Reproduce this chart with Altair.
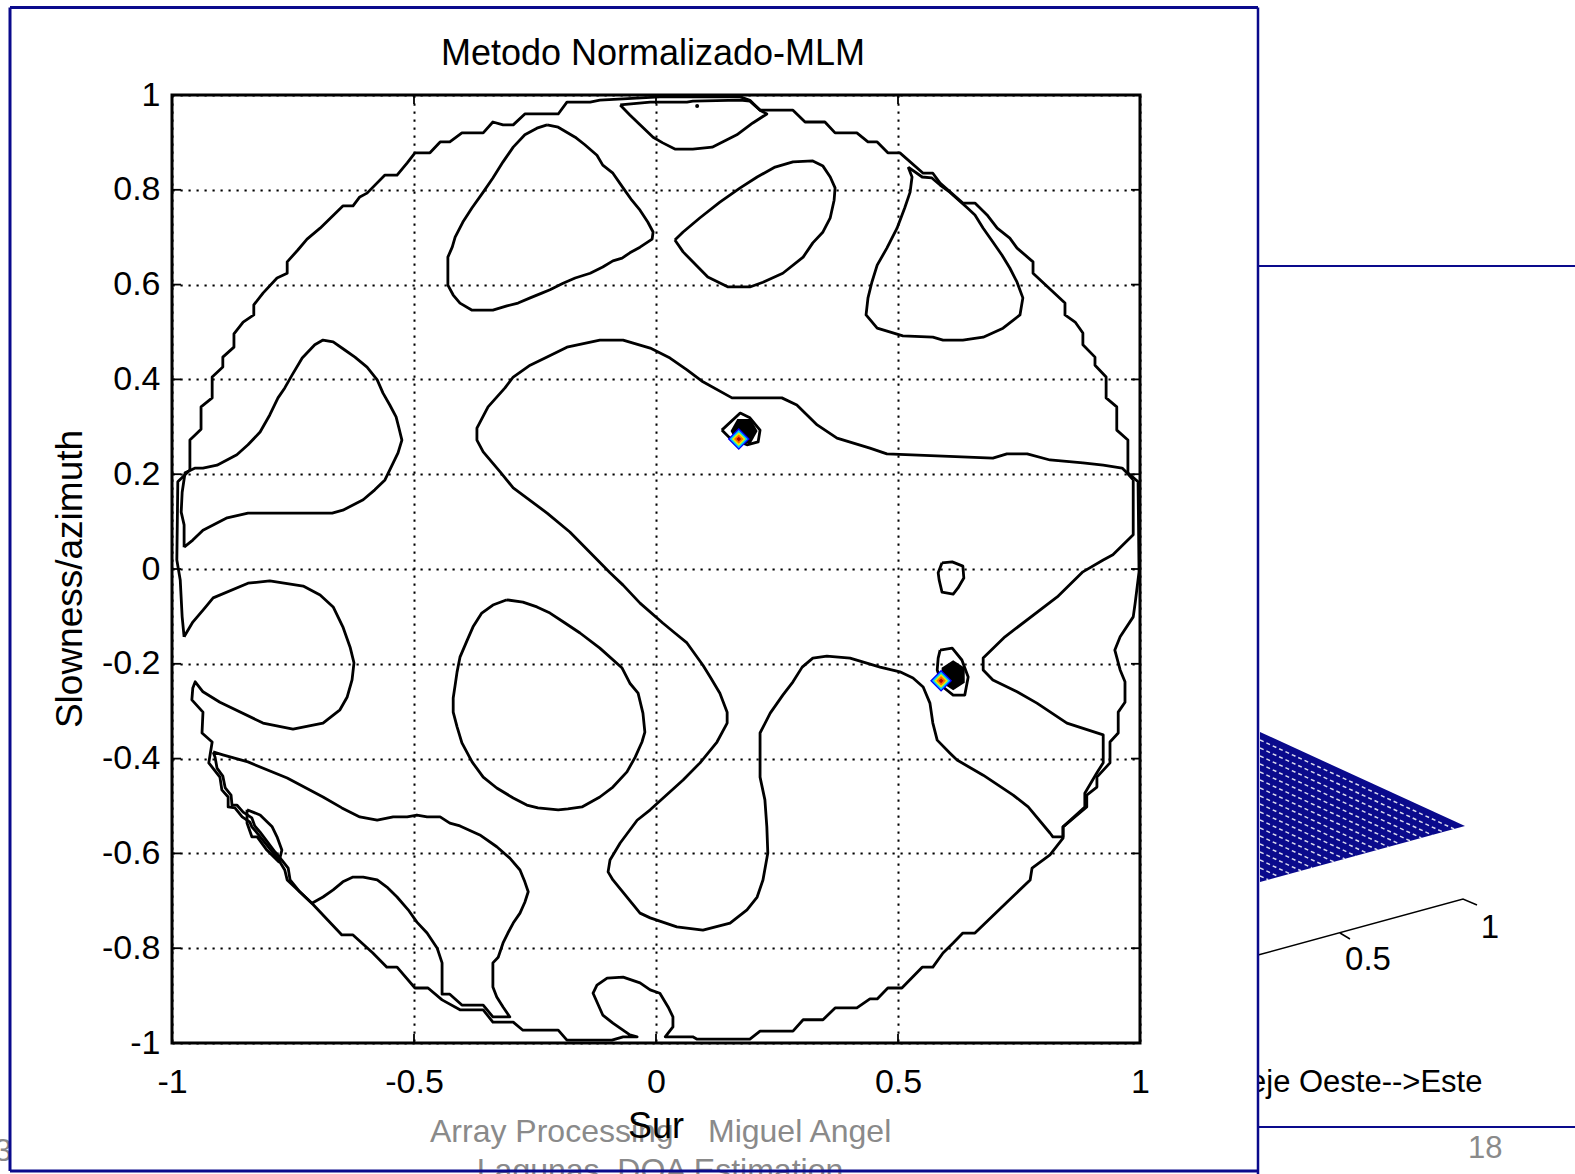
import altair as alt
import pandas as pd

# ---------------- contour polylines, (x, y) in data units ----------------
OUTER = [(-0.975,-0.143),(-0.979,-0.101),(-0.983,-0.023),(-0.990,0.019),(-0.988,0.184),(-0.963,0.209),
 (-0.963,0.272),(-0.940,0.295),(-0.940,0.342),(-0.917,0.361),(-0.917,0.405),(-0.895,0.426),(-0.895,0.447),
 (-0.872,0.468),(-0.872,0.496),(-0.853,0.521),(-0.831,0.536),(-0.831,0.557),(-0.812,0.582),(-0.783,0.614),
 (-0.762,0.624),(-0.762,0.648),(-0.740,0.673),(-0.721,0.696),(-0.694,0.719),(-0.647,0.766),(-0.626,0.766),
 (-0.612,0.785),(-0.597,0.793),(-0.560,0.831),(-0.535,0.831),(-0.514,0.857),(-0.498,0.878),(-0.467,0.878),
 (-0.446,0.901),(-0.426,0.901),(-0.401,0.920),(-0.357,0.920),(-0.337,0.943),(-0.316,0.937),(-0.295,0.937),
 (-0.271,0.960),(-0.202,0.960),(-0.184,0.985),(-0.136,0.985),(-0.116,0.989),(0.008,0.996),(0.174,0.996),
 (0.194,0.989),(0.215,0.968),(0.283,0.968),(0.308,0.943),(0.349,0.943),(0.370,0.920),(0.415,0.920),
 (0.438,0.901),(0.457,0.901),(0.479,0.878),(0.504,0.878),(0.552,0.835),(0.572,0.835),(0.587,0.814),
 (0.634,0.772),(0.659,0.772),(0.684,0.747),(0.705,0.719),(0.731,0.698),(0.746,0.677),(0.779,0.648),
 (0.779,0.624),(0.845,0.561),(0.845,0.536),(0.866,0.521),(0.882,0.498),(0.882,0.473),(0.907,0.447),
 (0.907,0.430),(0.930,0.405),(0.930,0.361),(0.952,0.342),(0.952,0.293),(0.975,0.272),(0.975,0.203),
 (0.996,0.184),(0.998,-0.006),(0.990,-0.072),(0.986,-0.101),(0.959,-0.143),(0.948,-0.171),(0.959,-0.213),
 (0.969,-0.238),(0.969,-0.281),(0.955,-0.302),(0.955,-0.346),(0.938,-0.365),(0.938,-0.409),(0.911,-0.439),
 (0.911,-0.460),(0.890,-0.477),(0.890,-0.502),(0.841,-0.544),(0.841,-0.568),(0.814,-0.603),(0.777,-0.631),
 (0.773,-0.656),(0.725,-0.703),(0.659,-0.768),(0.634,-0.768),(0.614,-0.789),(0.593,-0.810),(0.572,-0.840),
 (0.550,-0.840),(0.508,-0.884),(0.479,-0.884),(0.457,-0.907),(0.442,-0.907),(0.415,-0.926),(0.370,-0.926),
 (0.345,-0.951),(0.304,-0.951),(0.283,-0.975),(0.215,-0.975),(0.194,-0.992),(0.085,-0.992),(0.076,-0.987),
 (0.019,-0.987),(0.035,-0.966),(0.035,-0.945),(0.025,-0.924),(0.008,-0.895),(-0.012,-0.888),(-0.033,-0.873),
 (-0.068,-0.861),(-0.101,-0.863),(-0.122,-0.878),(-0.130,-0.895),(-0.110,-0.941),(-0.089,-0.958),
 (-0.054,-0.983),(-0.039,-0.987),(-0.068,-0.987),(-0.091,-0.994),(-0.184,-0.994),(-0.202,-0.973),
 (-0.275,-0.973),(-0.295,-0.956),(-0.337,-0.956),(-0.357,-0.930),(-0.405,-0.930),(-0.442,-0.909),
 (-0.471,-0.884),(-0.498,-0.884),(-0.535,-0.840),(-0.556,-0.840),(-0.585,-0.810),(-0.626,-0.772),
 (-0.649,-0.772),(-0.711,-0.705),(-0.762,-0.656),(-0.767,-0.635),(-0.777,-0.618),(-0.791,-0.599),
 (-0.824,-0.557),(-0.835,-0.544),(-0.839,-0.534),(-0.855,-0.523),(-0.870,-0.504),(-0.884,-0.502),
 (-0.884,-0.481),(-0.897,-0.466),(-0.901,-0.439),(-0.924,-0.409),(-0.917,-0.365),(-0.938,-0.346),
 (-0.936,-0.302),(-0.959,-0.276),(-0.957,-0.251),(-0.952,-0.238),(-0.936,-0.259),(-0.901,-0.281),
 (-0.812,-0.325),(-0.750,-0.338),(-0.688,-0.325),(-0.653,-0.297),(-0.638,-0.270),(-0.628,-0.234),
 (-0.624,-0.198),(-0.632,-0.165),(-0.647,-0.122),(-0.667,-0.080),(-0.694,-0.055),(-0.729,-0.036),
 (-0.798,-0.025),(-0.843,-0.030),(-0.915,-0.061),(-0.932,-0.082),(-0.957,-0.112),(-0.975,-0.143)]

TOP_LOBE = [(-0.074,0.979),(-0.054,0.958),(-0.033,0.937),(-0.006,0.911),(0.014,0.899),(0.039,0.886),
 (0.076,0.886),(0.116,0.890),(0.167,0.916),(0.200,0.941),(0.229,0.960),(0.215,0.968),(0.194,0.987),
 (0.174,0.989),(0.076,0.987),(0.064,0.985),(-0.012,0.985),(-0.074,0.979)]

UPPER_LEFT_BLOB = [(-0.225,0.937),(-0.202,0.932),(-0.167,0.911),(-0.147,0.895),(-0.122,0.873),(-0.110,0.852),
 (-0.089,0.835),(-0.068,0.804),(-0.050,0.778),(-0.033,0.757),(-0.017,0.732),(-0.006,0.711),(-0.008,0.696),
 (-0.033,0.679),(-0.054,0.667),(-0.070,0.656),(-0.089,0.650),(-0.110,0.637),(-0.136,0.624),(-0.167,0.614),
 (-0.192,0.603),(-0.219,0.589),(-0.236,0.582),(-0.260,0.572),(-0.285,0.561),(-0.308,0.555),(-0.337,0.546),
 (-0.380,0.546),(-0.405,0.561),(-0.419,0.578),(-0.430,0.599),(-0.430,0.658),(-0.421,0.679),(-0.415,0.700),
 (-0.399,0.732),(-0.380,0.762),(-0.357,0.795),(-0.337,0.825),(-0.316,0.859),(-0.295,0.890),(-0.271,0.916),
 (-0.246,0.930),(-0.225,0.937)]

UPPER_MID_BLOB = [(0.039,0.694),(0.056,0.711),(0.091,0.741),(0.132,0.774),(0.174,0.804),(0.209,0.827),
 (0.246,0.848),(0.283,0.859),(0.324,0.861),(0.345,0.850),(0.360,0.827),(0.370,0.804),(0.368,0.778),
 (0.360,0.741),(0.345,0.711),(0.324,0.688),(0.304,0.658),(0.262,0.624),(0.221,0.605),(0.194,0.595),
 (0.149,0.595),(0.107,0.616),(0.076,0.648),(0.056,0.669),(0.039,0.694)]

UPPER_RIGHT_LOBE = [(0.521,0.848),(0.529,0.827),(0.525,0.795),(0.514,0.762),(0.498,0.719),(0.477,0.677),
 (0.457,0.641),(0.446,0.605),(0.438,0.572),(0.434,0.536),(0.457,0.508),(0.510,0.492),(0.572,0.489),
 (0.593,0.483),(0.634,0.483),(0.676,0.489),(0.717,0.508),(0.752,0.536),(0.758,0.572),(0.746,0.605),
 (0.731,0.635),(0.715,0.662),(0.696,0.690),(0.676,0.719),(0.659,0.747),(0.643,0.762),(0.607,0.795),
 (0.587,0.810),(0.570,0.825),(0.550,0.827),(0.521,0.848)]

CENTRAL = [(0.986,0.188),(0.973,0.203),(0.963,0.213),(0.924,0.219),(0.882,0.224),(0.814,0.230),(0.767,0.243),
 (0.725,0.243),(0.696,0.234),(0.477,0.243),(0.442,0.255),(0.374,0.276),(0.333,0.304),(0.291,0.346),
 (0.260,0.361),(0.157,0.361),(0.097,0.395),(0.064,0.420),(0.029,0.445),(-0.012,0.466),(-0.068,0.483),
 (-0.116,0.483),(-0.184,0.468),(-0.225,0.447),(-0.260,0.430),(-0.295,0.405),(-0.312,0.382),(-0.347,0.342),
 (-0.370,0.297),(-0.370,0.272),(-0.357,0.247),(-0.322,0.205),(-0.295,0.171),(-0.225,0.118),(-0.178,0.078),
 (-0.095,-0.008),(-0.068,-0.034),(-0.033,-0.072),(0.014,-0.114),(0.039,-0.135),(0.064,-0.156),(0.097,-0.203),
 (0.112,-0.228),(0.132,-0.262),(0.147,-0.302),(0.147,-0.325),(0.126,-0.365),(0.091,-0.409),(0.056,-0.445),
 (-0.012,-0.508),(-0.039,-0.530),(-0.074,-0.578),(-0.095,-0.614),(-0.099,-0.639),(-0.089,-0.656),
 (-0.033,-0.726),(-0.012,-0.736),(0.043,-0.755),(0.097,-0.762),(0.153,-0.747),(0.188,-0.719),(0.209,-0.692),
 (0.221,-0.656),(0.231,-0.599),(0.229,-0.544),(0.225,-0.487),(0.215,-0.439),(0.215,-0.346),(0.236,-0.304),
 (0.262,-0.266),(0.283,-0.238),(0.302,-0.207),(0.324,-0.188),(0.353,-0.184),(0.401,-0.188),(0.463,-0.207),
 (0.504,-0.217),(0.531,-0.230),(0.552,-0.249),(0.566,-0.283),(0.572,-0.325),(0.581,-0.361),(0.607,-0.388),
 (0.622,-0.403),(0.676,-0.435),(0.738,-0.477),(0.769,-0.502),(0.814,-0.557),(0.820,-0.565),(0.841,-0.565),
 (0.841,-0.544),(0.886,-0.502),(0.886,-0.473),(0.911,-0.430),(0.924,-0.409),(0.924,-0.350),(0.849,-0.325),
 (0.787,-0.283),(0.746,-0.259),(0.696,-0.234),(0.676,-0.213),(0.676,-0.188),(0.721,-0.143),(0.829,-0.059),
 (0.882,-0.006),(0.924,0.019),(0.944,0.030),(0.986,0.072),(0.986,0.188)]

LEFT_LOBE = [(-0.975,0.046),(-0.957,0.061),(-0.936,0.082),(-0.911,0.095),(-0.886,0.108),(-0.843,0.118),
 (-0.669,0.118),(-0.647,0.124),(-0.605,0.146),(-0.581,0.167),(-0.560,0.188),(-0.543,0.224),(-0.533,0.245),
 (-0.525,0.272),(-0.531,0.297),(-0.537,0.321),(-0.550,0.346),(-0.564,0.371),(-0.576,0.399),(-0.597,0.426),
 (-0.622,0.447),(-0.643,0.462),(-0.667,0.479),(-0.688,0.483),(-0.705,0.473),(-0.731,0.445),(-0.752,0.409),
 (-0.767,0.382),(-0.781,0.361),(-0.798,0.325),(-0.818,0.289),(-0.843,0.262),(-0.866,0.241),(-0.907,0.219),
 (-0.936,0.213),(-0.952,0.213),(-0.973,0.203),(-0.979,0.162),(-0.981,0.120),(-0.975,0.093),(-0.975,0.046)]

LOWER_MID_BLOB = [(-0.308,-0.065),(-0.275,-0.070),(-0.246,-0.080),(-0.219,-0.093),(-0.188,-0.114),
 (-0.157,-0.135),(-0.116,-0.167),(-0.070,-0.209),(-0.054,-0.241),(-0.037,-0.262),(-0.027,-0.304),
 (-0.023,-0.344),(-0.029,-0.365),(-0.043,-0.397),(-0.060,-0.428),(-0.089,-0.460),(-0.116,-0.481),
 (-0.153,-0.502),(-0.182,-0.506),(-0.202,-0.508),(-0.244,-0.504),(-0.267,-0.498),(-0.295,-0.483),
 (-0.329,-0.462),(-0.357,-0.439),(-0.380,-0.407),(-0.401,-0.367),(-0.411,-0.333),(-0.419,-0.302),
 (-0.419,-0.272),(-0.415,-0.245),(-0.411,-0.217),(-0.405,-0.186),(-0.390,-0.150),(-0.378,-0.122),
 (-0.360,-0.093),(-0.337,-0.076),(-0.308,-0.065)]

LOWER_LEFT_LOOP = [(-0.915,-0.386),(-0.895,-0.392),(-0.843,-0.407),(-0.762,-0.441),(-0.688,-0.481),
 (-0.649,-0.504),(-0.612,-0.523),(-0.576,-0.530),(-0.543,-0.523),(-0.514,-0.523),(-0.494,-0.519),
 (-0.473,-0.523),(-0.446,-0.523),(-0.426,-0.536),(-0.405,-0.542),(-0.364,-0.561),(-0.329,-0.586),
 (-0.302,-0.610),(-0.281,-0.635),(-0.271,-0.660),(-0.264,-0.681),(-0.271,-0.703),(-0.281,-0.726),
 (-0.295,-0.747),(-0.306,-0.768),(-0.316,-0.789),(-0.326,-0.819),(-0.337,-0.831),(-0.337,-0.882),
 (-0.329,-0.903),(-0.316,-0.924),(-0.302,-0.945),(-0.337,-0.945),(-0.357,-0.920),(-0.401,-0.920),
 (-0.426,-0.897),(-0.442,-0.897),(-0.442,-0.831),(-0.452,-0.800),(-0.473,-0.768),(-0.494,-0.745),
 (-0.512,-0.719),(-0.535,-0.692),(-0.556,-0.671),(-0.576,-0.656),(-0.605,-0.650),(-0.626,-0.650),
 (-0.647,-0.660),(-0.667,-0.677),(-0.688,-0.692),(-0.711,-0.705),(-0.736,-0.681),(-0.756,-0.656),
 (-0.760,-0.631),(-0.773,-0.614),(-0.787,-0.597),(-0.818,-0.555),(-0.829,-0.542),(-0.835,-0.525),
 (-0.853,-0.513),(-0.866,-0.498),(-0.876,-0.498),(-0.878,-0.477),(-0.890,-0.462),(-0.895,-0.437),
 (-0.907,-0.420),(-0.911,-0.397),(-0.915,-0.386)]

SMALL_EDGE_LOOP = [(-0.845,-0.508),(-0.818,-0.519),(-0.793,-0.544),(-0.783,-0.565),(-0.773,-0.593),
 (-0.779,-0.618),(-0.804,-0.593),(-0.824,-0.565),(-0.835,-0.565),(-0.845,-0.536),(-0.845,-0.508)]

SMALL_BLOB = [(0.591,0.013),(0.612,0.015),(0.634,0.006),(0.636,-0.019),(0.624,-0.040),(0.614,-0.053),
 (0.591,-0.049),(0.585,-0.023),(0.583,-0.008),(0.591,0.013)]

PEAK1_RING = [(0.136,0.293),(0.174,0.329),(0.194,0.319),(0.215,0.293),(0.211,0.268),(0.188,0.262),
 (0.153,0.276),(0.136,0.293)]

PEAK2_RING = [(0.587,-0.171),(0.612,-0.167),(0.632,-0.192),(0.645,-0.228),(0.638,-0.266),(0.614,-0.266),
 (0.593,-0.249),(0.581,-0.213),(0.583,-0.188),(0.587,-0.171)]

CONTOURS = {
    "outer": OUTER, "top_lobe": TOP_LOBE, "ul_blob": UPPER_LEFT_BLOB, "um_blob": UPPER_MID_BLOB,
    "ur_lobe": UPPER_RIGHT_LOBE, "central": CENTRAL, "left_lobe": LEFT_LOBE, "lm_blob": LOWER_MID_BLOB,
    "ll_loop": LOWER_LEFT_LOOP, "edge_loop": SMALL_EDGE_LOOP, "small_blob": SMALL_BLOB,
    "peak1_ring": PEAK1_RING, "peak2_ring": PEAK2_RING,
}

# peaks (source directions)
CORE_X = [0.182, 0.614]
CORE_Y = [0.291, -0.224]
CORE_SHAPES = ["M-1,0L-0.5,-0.9L0.5,-0.9L1,0L0.5,0.9L-0.5,0.9Z",
               "M0,-1L0.77,-0.5L0.77,0.5L0,1L-0.77,0.5L-0.77,-0.5Z"]
CORE_SIZES = [729, 900]
PEAK_X = [0.171, 0.589]
PEAK_Y = [0.274, -0.236]
RING_COLORS = ["#0000ff", "#00c8ff", "#e6f000", "#ff6a00", "#b00000"]
RING_SIZES = [484, 330, 190, 90, 22]

TOP_DOT = [(0.085, 0.977)]

X_TICKS = [-1, -0.5, 0, 0.5, 1]
Y_TICKS = [-1, -0.8, -0.6, -0.4, -0.2, 0, 0.2, 0.4, 0.6, 0.8, 1]

TITLE = "Metodo Normalizado-MLM"
X_TITLE = "Sur"
Y_TITLE = "Slowness/azimuth"

# ---------------- layout (page pixels) ----------------
PAGE_W, PAGE_H = 1575, 1174
PLOT_L, PLOT_T, PLOT_W, PLOT_H = 172, 95, 968, 948
NAVY = "#0a0a8c"
GREY = "#8a8a8a"
FONT = "Liberation Sans"


def px(x):
    return x - PLOT_L


def py(y):
    return y - PLOT_T


rows = []
for cid, pts in CONTOURS.items():
    for i, (x, y) in enumerate(pts):
        rows.append({"cid": cid, "i": i, "x": x, "y": y})
contour_df = pd.DataFrame(rows)

xs = alt.Scale(domain=[-1, 1], nice=False, zero=False)
ys = alt.Scale(domain=[-1, 1], nice=False, zero=False)
label_expr = "(datum.value < 0 ? '-' : '') + format(abs(datum.value), '.1~f')"

x_axis = alt.Axis(values=X_TICKS, labelExpr=label_expr, labelFont=FONT, labelFontSize=34,
                  labelColor="black", labelPadding=22, ticks=False, tickSize=0, domain=False,
                  grid=True, gridColor="black", gridDash=[2.2, 5.8], gridWidth=2, gridOpacity=1,
                  labelFlush=False, labelOverlap=False, labelAngle=0, title=None)
y_axis = alt.Axis(values=Y_TICKS, labelExpr=label_expr, labelFont=FONT, labelFontSize=34,
                  labelColor="black", labelPadding=12, ticks=False, tickSize=0, domain=False,
                  grid=True, gridColor="black", gridDash=[2.2, 5.8], gridWidth=2, gridOpacity=1,
                  labelFlush=False, labelOverlap=False, title=None)


def X(field):
    return alt.X(field, scale=xs, axis=x_axis)


def Y(field):
    return alt.Y(field, scale=ys, axis=y_axis)


lines = alt.Chart(contour_df).mark_line(color="black", strokeWidth=2.8, strokeJoin="round").encode(
    x=X("x:Q"), y=Y("y:Q"), detail="cid:N", order="i:Q",
)

layers = [lines]

# small dot at top
dot_df = pd.DataFrame(TOP_DOT, columns=["x", "y"])
layers.append(alt.Chart(dot_df).mark_point(filled=True, color="black", size=16, opacity=1).encode(
    x=X("x:Q"), y=Y("y:Q")))

# black cores
for cx, cy, shp, sz in zip(CORE_X, CORE_Y, CORE_SHAPES, CORE_SIZES):
    d = pd.DataFrame({"x": [cx], "y": [cy]})
    layers.append(alt.Chart(d).mark_point(shape=shp, size=sz, filled=True, color="black",
                                          opacity=1, strokeWidth=0).encode(x=X("x:Q"), y=Y("y:Q")))

# coloured peak diamonds
peak_rows = []
k = 0
for pxv, pyv in zip(PEAK_X, PEAK_Y):
    for c, s in zip(RING_COLORS, RING_SIZES):
        peak_rows.append({"x": pxv, "y": pyv, "c": c, "s": s, "k": k})
        k += 1
peak_df = pd.DataFrame(peak_rows)
layers.append(alt.Chart(peak_df).mark_point(shape="diamond", filled=True, opacity=1, strokeWidth=0).encode(
    x=X("x:Q"), y=Y("y:Q"),
    color=alt.Color("c:N", scale=None), size=alt.Size("s:Q", scale=None), order="k:Q"))

# inward ticks on all four sides
xt = pd.DataFrame({"x": X_TICKS})
yt = pd.DataFrame({"y": Y_TICKS})
for y1, y2 in [(PLOT_H, PLOT_H - 9), (0, 9)]:
    layers.append(alt.Chart(xt).mark_rule(color="black", strokeWidth=1.8).encode(
        x=X("x:Q"), y=alt.value(y1), y2=alt.value(y2)))
for x1, x2 in [(0, 9), (PLOT_W, PLOT_W - 9)]:
    layers.append(alt.Chart(yt).mark_rule(color="black", strokeWidth=1.8).encode(
        y=Y("y:Q"), x=alt.value(x1), x2=alt.value(x2)))


def text(t, x, y, size, color="black", angle=0, align="center", baseline="alphabetic"):
    d = pd.DataFrame({"t": [t]})
    return alt.Chart(d).mark_text(font=FONT, fontSize=size, color=color, angle=angle,
                                  align=align, baseline=baseline).encode(
        text="t:N", x=alt.value(px(x)), y=alt.value(py(y)))


def rule(x1, y1, x2, y2, color, width):
    d = pd.DataFrame({"a": [0]})
    return alt.Chart(d).mark_rule(color=color, strokeWidth=width).encode(
        x=alt.value(px(x1)), x2=alt.value(px(x2)), y=alt.value(py(y1)), y2=alt.value(py(y2)))


# ---- right-hand slide fragment: 3-D mesh corner ----
TRI = [(1260, 732), (1465, 826), (1260, 882)]
ax0, ay0 = TRI[0]
tri_path = "M0,0L%d,%dL%d,%dZ" % (TRI[1][0] - ax0, TRI[1][1] - ay0, TRI[2][0] - ax0, TRI[2][1] - ay0)
one = pd.DataFrame({"a": [0]})
layers.append(alt.Chart(one).mark_point(shape=tri_path, size=4, filled=True, color=NAVY, opacity=1,
                                        strokeWidth=0).encode(x=alt.value(px(ax0)), y=alt.value(py(ay0))))
top_dx, top_dy = TRI[1][0] - ax0, TRI[1][1] - ay0
bot_h = TRI[2][1] - ay0
slope_top = top_dy / top_dx
slope_bot = (bot_h - top_dy) / top_dx
segs = []
for r in range(1, 19):
    y0 = 8 * r
    xe = (bot_h - y0) / (slope_top + slope_bot)
    segs.append("M0,%d L%.1f,%.1f" % (y0, xe, y0 + slope_top * xe))
mesh_path = " ".join(segs)
layers.append(alt.Chart(one).mark_point(shape=mesh_path, size=4, filled=False, color="white", opacity=0.85,
                                        strokeWidth=1.5, strokeDash=[4, 3]).encode(
    x=alt.value(px(ax0)), y=alt.value(py(ay0))))
axis_path = "M0,0L205,-56L219,-50M82,-22L92,-16"
layers.append(alt.Chart(one).mark_point(shape=axis_path, size=4, filled=False, color="black", opacity=1,
                                        strokeWidth=1.5).encode(x=alt.value(px(1258)), y=alt.value(py(955))))
layers.append(text("1", 1490, 938, 33))
layers.append(text("0.5", 1368, 970, 33))
layers.append(text("eje Oeste-->Este", 1249, 1092, 31, align="left"))

# ---- texts of the figure and slide ----
layers.append(text(TITLE, 653, 65, 36))
layers.append(text(Y_TITLE, 82, 579, 37, angle=270))
layers.append(text("Array Processing", 430, 1142, 32, color=GREY, align="left"))
layers.append(text("Miguel Angel", 708, 1142, 32, color=GREY, align="left"))
layers.append(text("Lagunas. DOA Estimation", 660, 1181, 32, color=GREY))
layers.append(text(X_TITLE, 656, 1138, 36))
layers.append(text("3", 12, 1161, 32, color=GREY, align="right"))
layers.append(text("18", 1468, 1158, 31, color=GREY, align="left"))

# white mask hiding the part of the 3-D label under the figure picture
layers.append(alt.Chart(one).mark_rect(color="white").encode(
    x=alt.value(px(1232)), x2=alt.value(px(1257)), y=alt.value(py(1060)), y2=alt.value(py(1100))))

# slide frame lines
layers += [
    rule(10, 7.5, 10, 1171, NAVY, 3),
    rule(10, 7.5, 1258, 7.5, NAVY, 3),
    rule(10, 1171, 1258, 1171, NAVY, 3),
    rule(1258, 7.5, 1258, PAGE_H, NAVY, 2.5),
    rule(1258, 266, PAGE_W, 266, NAVY, 2),
    rule(1258, 1127, PAGE_W, 1127, NAVY, 2),
]

chart = alt.layer(*layers).properties(
    width=PLOT_W, height=PLOT_H,
    padding={"left": PLOT_L, "top": PLOT_T, "right": PAGE_W - PLOT_L - PLOT_W,
             "bottom": PAGE_H - PLOT_T - PLOT_H},
    autosize=alt.AutoSizeParams(type="none"),
    background="white",
).configure_view(stroke="black", strokeWidth=3)

chart.save("out.html", embed_options={"renderer": "svg", "actions": False})
